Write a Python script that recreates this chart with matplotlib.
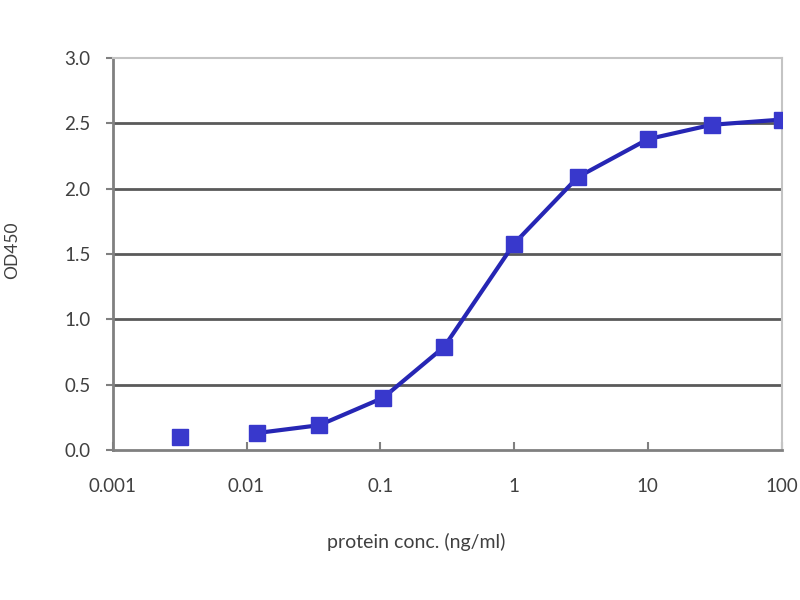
import matplotlib
matplotlib.use("Agg")
import matplotlib.pyplot as plt
from matplotlib.ticker import FixedLocator, FixedFormatter, NullLocator

# protein concentration (ng/ml) and OD450 readings
conc = [0.0032, 0.012, 0.035, 0.105, 0.3, 1, 3, 10, 30, 100]
od450 = [0.10, 0.13, 0.19, 0.40, 0.79, 1.58, 2.09, 2.38, 2.49, 2.53]

xticks = [0.001, 0.01, 0.1, 1, 10, 100]
xlabels = ["0.001", "0.01", "0.1", "1", "10", "100"]
yticks = [0.0, 0.5, 1.0, 1.5, 2.0, 2.5, 3.0]

plt.rcParams['font.family'] = ['Lato', 'DejaVu Sans']

fig = plt.figure(figsize=(8, 6), dpi=100)
ax = fig.add_axes([0.141, 0.25, 0.836, 0.653])

line_col = '#2626b4'
mark_col = '#3838cc'

# fitted curve (connected from the second point on), first point stands alone
ax.plot(conc[1:], od450[1:], color=line_col, linewidth=3, zorder=3)
ax.plot(conc, od450, linestyle='none', marker='s', markersize=11,
        color=mark_col, zorder=4)

ax.set_xscale('log')
ax.set_xlim(0.001, 100)
ax.set_ylim(0, 3.0)
ax.xaxis.set_major_locator(FixedLocator(xticks))
ax.xaxis.set_major_formatter(FixedFormatter(xlabels))
ax.xaxis.set_minor_locator(NullLocator())
ax.set_yticks(yticks)
ax.set_yticklabels(["%.1f" % v for v in yticks])

for v in yticks[1:-1]:
    ax.axhline(v, color='#5a5a5a', linewidth=2, zorder=1)

for s in ['left', 'bottom']:
    ax.spines[s].set_color('#808080')
    ax.spines[s].set_linewidth(2)
for s in ['top', 'right']:
    ax.spines[s].set_color('#c4c4c4')
    ax.spines[s].set_linewidth(1.5)

ax.tick_params(axis='x', direction='in', length=6, width=1.5, color='#808080',
               labelsize=13.5, labelcolor='#404040', pad=20)
ax.tick_params(axis='y', direction='out', length=5, width=1.5, color='#808080',
               labelsize=13.5, labelcolor='#404040', pad=11)

ax.set_xlabel('protein conc. (ng/ml)', fontsize=14, color='#404040')
ax.xaxis.set_label_coords(0.453, -0.212)
ax.set_ylabel('OD450', fontsize=12.5, color='#404040')
ax.yaxis.set_label_coords(-0.139, 0.51)

fig.savefig('out.png', dpi=100)
